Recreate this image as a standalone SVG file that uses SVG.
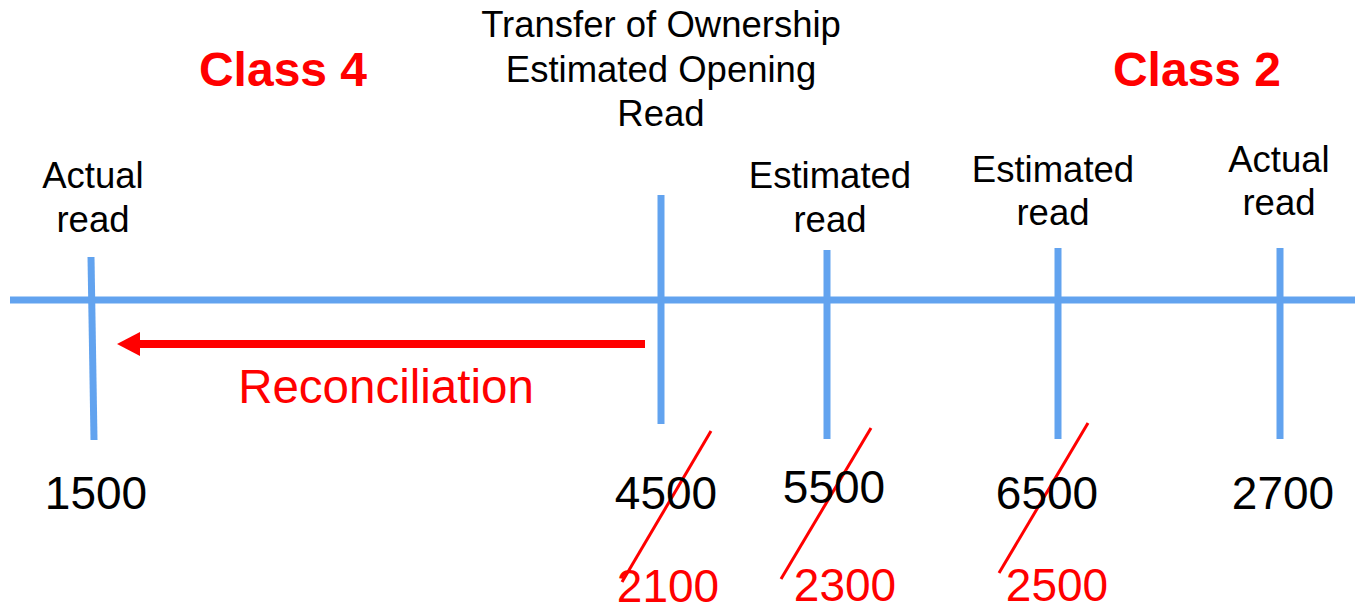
<svg xmlns="http://www.w3.org/2000/svg" width="1355" height="607" viewBox="0 0 1355 607">
<style>
.ax{stroke:#62A3EF;stroke-width:7;fill:none}
.sl{stroke:#FF0000;stroke-width:3;fill:none}
.t{font-family:"Liberation Sans",Arial,sans-serif;font-size:36.5px;fill:#000;text-anchor:middle}
.n{font-family:"Liberation Sans",Arial,sans-serif;font-size:46px;fill:#000;text-anchor:middle}
.r{font-family:"Liberation Sans",Arial,sans-serif;font-size:46px;fill:#FF0000;text-anchor:middle}
.c{font-family:"Liberation Sans",Arial,sans-serif;font-size:48px;font-weight:bold;fill:#FF0000;text-anchor:middle}
</style>
<rect width="1355" height="607" fill="#fff"/>
<g id="connectors">
<line class="ax" x1="10" y1="300" x2="1355" y2="300"/>
<line class="ax" x1="91" y1="257" x2="94" y2="440"/>
<line class="ax" x1="661" y1="195" x2="661" y2="424"/>
<line class="ax" x1="827" y1="250" x2="827" y2="439"/>
<line class="ax" x1="1058" y1="248" x2="1058" y2="439"/>
<line class="ax" x1="1280" y1="248" x2="1280" y2="439"/>
<line x1="645" y1="344" x2="136" y2="344" stroke="#FF0000" stroke-width="8"/>
<polygon points="117,344 140,332 140,356" fill="#FF0000"/>
<line class="sl" x1="711" y1="431" x2="622" y2="582"/>
<line class="sl" x1="871" y1="428" x2="781" y2="579"/>
<line class="sl" x1="1088" y1="423" x2="999" y2="573"/>
</g>
<g id="class4"><text class="c" x="283" y="86">Class 4</text></g>
<g id="class2"><text class="c" x="1197" y="86">Class 2</text></g>
<g id="transfer"><text class="t" x="661" y="37">Transfer of Ownership</text><text class="t" x="661" y="82">Estimated Opening</text><text class="t" x="661" y="126">Read</text></g>
<g id="actual-left"><text class="t" x="93" y="188">Actual</text><text class="t" x="93" y="232">read</text></g>
<g id="est1"><text class="t" x="830" y="188">Estimated</text><text class="t" x="830" y="232">read</text></g>
<g id="est2"><text class="t" x="1053" y="182">Estimated</text><text class="t" x="1053" y="225">read</text></g>
<g id="actual-right"><text class="t" x="1279" y="172">Actual</text><text class="t" x="1279" y="215">read</text></g>
<g id="reconciliation"><text class="r" x="386" y="403" style="font-size:47.5px">Reconciliation</text></g>
<g id="values">
<text class="n" x="96" y="509">1500</text>
<text class="n" x="666" y="509">4500</text>
<text class="n" x="834" y="503">5500</text>
<text class="n" x="1047" y="509">6500</text>
<text class="n" x="1283" y="509">2700</text>
<text class="r" x="668" y="602">2100</text>
<text class="r" x="845" y="601">2300</text>
<text class="r" x="1057" y="601">2500</text>
</g>
</svg>
